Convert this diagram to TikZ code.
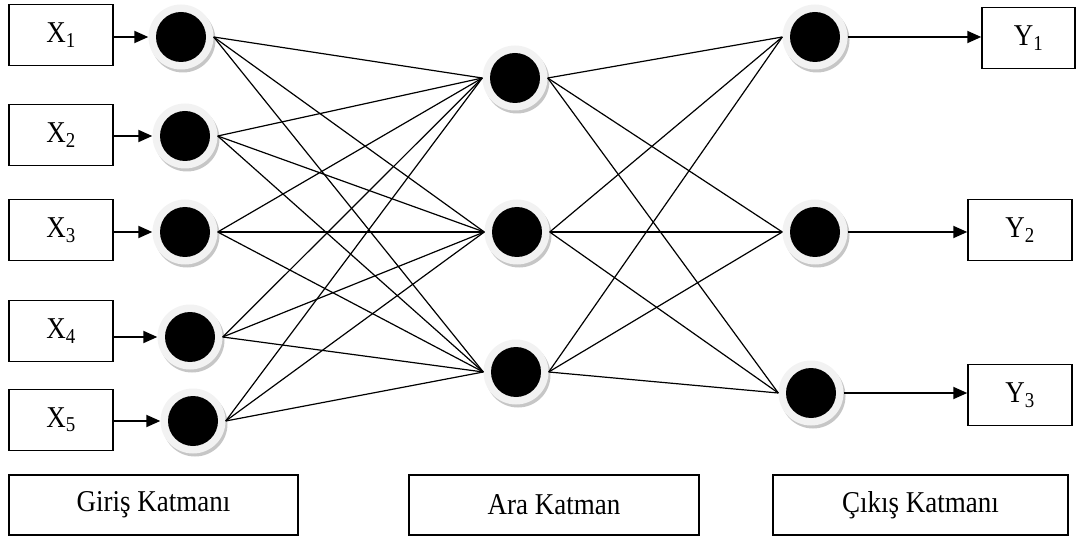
\documentclass[tikz,border=0pt]{standalone}
\usepackage{fontspec}
\usepackage{graphicx}
\setmainfont{Liberation Serif}
\usetikzlibrary{arrows.meta}
\newcommand{\tallt}[1]{\scalebox{1}[1.12]{#1}}
\begin{document}
\begin{tikzpicture}[x=1pt,y=-1pt,
  neuron/.style={circle, minimum size=65pt, inner sep=0pt, fill=gray!10,
    preaction={fill=gray!45, transform canvas={shift={(2pt,-3pt)}}},
    path picture={\fill[black] (path picture bounding box.center) circle (25pt);}},
  xbox/.style={draw, line width=1.5pt, minimum width=104pt, minimum height=61pt, inner sep=0pt, font=\fontsize{27}{31}\selectfont},
  lbox/.style={draw, line width=1.4pt, minimum height=60pt, inner sep=0pt, font=\fontsize{27}{31}\selectfont},
  conn/.style={line width=1.2pt},
  arr/.style={line width=1.9pt, -{Triangle[length=14pt,width=12pt]}}
]
\useasboundingbox (0,0) rectangle (1078,537);
% input boxes
\node[xbox] (X1) at (61,35) {\tallt{X\textsubscript{1}}};
\node[xbox] (X2) at (61,135) {\tallt{X\textsubscript{2}}};
\node[xbox] (X3) at (61,230) {\tallt{X\textsubscript{3}}};
\node[xbox] (X4) at (61,331) {\tallt{X\textsubscript{4}}};
\node[xbox] (X5) at (61,420) {\tallt{X\textsubscript{5}}};
% output boxes
\node[xbox, minimum width=93pt] (Y1) at (1028.5,38) {\tallt{Y\textsubscript{1}}};
\node[xbox] (Y2) at (1020,230) {\tallt{Y\textsubscript{2}}};
\node[xbox] (Y3) at (1020,395) {\tallt{Y\textsubscript{3}}};
% neurons
\node[neuron] (I1) at (181,37) {};
\node[neuron] (I2) at (185,136) {};
\node[neuron] (I3) at (185,232) {};
\node[neuron] (I4) at (190,337) {};
\node[neuron] (I5) at (193,421) {};
\node[neuron] (H1) at (515,78) {};
\node[neuron] (H2) at (517,232) {};
\node[neuron] (H3) at (516,372) {};
\node[neuron] (O1) at (815,37) {};
\node[neuron] (O2) at (815,232) {};
\node[neuron] (O3) at (811,393) {};
% connections
\foreach \i in {1,...,5}{
  \foreach \h in {1,2,3}{
    \draw[conn] (I\i.east) -- (H\h.west);
  }
  \draw[arr] (X\i.east |- I\i.west) -- (I\i.west);
}
\foreach \h in {1,2,3}{
  \foreach \o in {1,2,3}{
    \draw[conn] (H\h.east) -- (O\o.west);
  }
}
\foreach \o in {1,2,3}{
  \draw[arr] (O\o.east) -- (Y\o.west |- O\o.east);
}
% layer labels
\node[lbox, minimum width=289pt] (LG) at (153.5,505) {\tallt{Giriş Katmanı}};
\node[lbox, minimum width=290pt] (LA) at (554,505) {\tallt{Ara Katman}};
\node[lbox, minimum width=295pt] (LC) at (920.5,505) {\tallt{Çıkış Katmanı}};
\end{tikzpicture}
\end{document}
